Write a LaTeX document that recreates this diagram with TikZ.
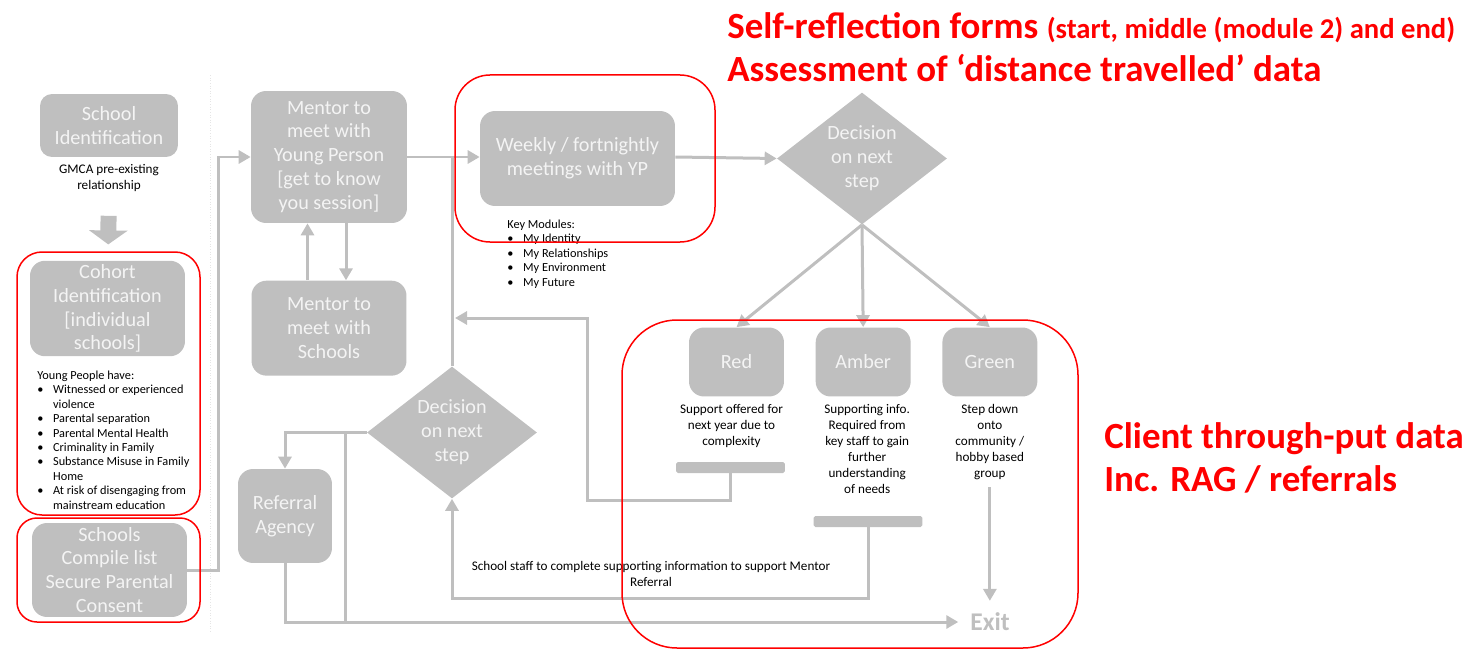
\documentclass[tikz,border=0pt]{standalone}
\usepackage{fontspec}
\setmainfont{Carlito}
\usepackage{tikz}
\usetikzlibrary{shapes,arrows.meta,positioning}

\definecolor{boxgray}{HTML}{BFBFBF}
\definecolor{boxtext}{HTML}{F4F4F4}
\definecolor{framered}{HTML}{FF0000}

\begin{document}
\begin{tikzpicture}[x=0.02cm, y=-0.02cm,
        box/.style={rectangle, fill=boxgray, text=boxtext, align=center, rounded corners=0.3cm, inner sep=2pt, font=\fontsize{11.5}{13.6}\selectfont},
        decision/.style={diamond, aspect=1.28, fill=boxgray, text=boxtext, align=center, inner sep=0pt, minimum width=3.4cm, minimum height=2.64cm, font=\fontsize{11.5}{13.6}\selectfont},
        bar/.style={rectangle, fill=boxgray, rounded corners=1pt, inner sep=0pt, minimum width=2.18cm, minimum height=0.22cm},
        note/.style={align=center, inner sep=1pt, font=\fontsize{7.5}{9.2}\selectfont},
        listnote/.style={align=left, inner sep=0pt, anchor=north west, font=\fontsize{7}{8.2}\selectfont},
        link/.style={draw=boxgray, line width=0.06cm},
        arrow/.style={link, -{Triangle[length=0.24cm, width=0.26cm]}},
        fatarrow/.style={draw=boxgray, line width=0.32cm, -{Triangle[length=0.28cm, width=0.76cm]}},
        redframe/.style={draw=framered, line width=0.03cm},
        redtitle/.style={text=framered, anchor=west, inner sep=0pt, font=\bfseries\fontsize{21}{24.5}\selectfont}
    ]
        \useasboundingbox (0,0) rectangle (1481,652);

        % faint page divider
        \draw[gray!20, densely dotted, line width=0.5pt] (210,75) -- (210,632);

        % Left column
        \node[box, minimum width=2.76cm, minimum height=1.26cm, rounded corners=0.24cm] (school) at (109,125.5) {School\\Identification};
        \node[note] (gmca) at (109,178) {GMCA pre-existing\\relationship};
        \node[box, minimum width=3.1cm, minimum height=1.86cm] (cohort) at (107.5,308.5) {Cohort\\Identification\\{[}individual\\schools{]}};
        \node[listnote] (yplist) at (37,369) {\begin{tabular}{@{}l@{\hspace{5.5pt}}l@{}}
            \multicolumn{2}{@{}l@{}}{Young People have:}\\
            \textbullet & Witnessed or experienced\\
             & violence\\
            \textbullet & Parental separation\\
            \textbullet & Parental Mental Health\\
            \textbullet & Criminality in Family\\
            \textbullet & Substance Misuse in Family\\
             & Home\\
            \textbullet & At risk of disengaging from\\
             & mainstream education
        \end{tabular}};
        \node[box, minimum width=3.1cm, minimum height=1.88cm] (schools) at (109.5,570) {Schools\\Compile list\\Secure Parental\\Consent};

        % Mentor blocks
        \node[box, minimum width=3.12cm, minimum height=2.64cm] (mentoryp) at (329,157) {Mentor to\\meet with\\Young Person\\{[}get to know\\you session{]}};
        \node[box, minimum width=3.1cm, minimum height=1.9cm, below=1.14cm of mentoryp] (mentorsch) {Mentor to\\meet with\\Schools};

        % Meetings and decisions
        \node[box, minimum width=3.9cm, minimum height=1.9cm] (weekly) at (577.5,158.5) {Weekly / fortnightly\\meetings with YP};
        \node[listnote] (modules) at (507,218) {\begin{tabular}{@{}l@{\hspace{5.5pt}}l@{}}
            \multicolumn{2}{@{}l@{}}{Key Modules:}\\
            \textbullet & My Identity\\
            \textbullet & My Relationships\\
            \textbullet & My Environment\\
            \textbullet & My Future
        \end{tabular}};
        \node[decision] (dec1) at (862,158.5) {Decision\\on next\\step};
        \node[decision] (dec2) at (452,432.5) {Decision\\on next\\step};
        \node[box, minimum width=1.88cm, minimum height=1.88cm] (referral) at (285,516) {Referral\\Agency};

        % RAG
        \node[box, minimum width=1.9cm, minimum height=1.38cm] (red) at (736.5,362) {Red};
        \node[box, minimum width=1.9cm, minimum height=1.38cm, right=0.62cm of red] (amber) {Amber};
        \node[box, minimum width=1.9cm, minimum height=1.38cm, right=0.62cm of amber] (green) {Green};
        \node[note, below=0.1cm of red, xshift=-0.1cm] (rednote) {Support offered for\\next year due to\\complexity};
        \node[note, below=0.1cm of amber, xshift=0.08cm] (ambernote) {Supporting info.\\Required from\\key staff to gain\\further\\understanding\\of needs};
        \node[note, below=0.1cm of green] (greennote) {Step down\\onto\\community /\\hobby based\\group};
        \node[bar] (redbar) at (730.5,467.5) {};
        \node[bar] (amberbar) at (868,521.5) {};
        \node[note] (staffnote) at (651,574) {School staff to complete supporting information to support Mentor\\Referral};
        \node[text=boxgray, inner sep=1pt, font=\bfseries\fontsize{14.5}{16}\selectfont] (exit) at (990,622) {Exit};

        % Arrows
        \draw[fatarrow, shorten <=0.44cm, shorten >=0.32cm] (gmca) -- (cohort);
        \draw[arrow] (schools.east) -- ++(31,0) |- (mentoryp.west);
        \draw[arrow] ([xshift=-0.43cm]mentorsch.north) -- ([xshift=-0.43cm]mentoryp.south);
        \draw[arrow] ([xshift=0.34cm]mentoryp.south) -- ([xshift=0.34cm]mentorsch.north);
        \draw[arrow] (mentoryp.east) -- (weekly.west |- mentoryp.east);
        \draw[arrow] (weekly.east |- mentoryp.east) -- (dec1.west);
        \draw[arrow] (dec1.south) -- (red.north);
        \draw[arrow] (dec1.south) -- (amber.north);
        \draw[arrow] (dec1.south) -- (green.north);
        \draw[link] (dec2.north) -- (dec2.north |- mentoryp.east);
        \coordinate (loopin) at (455,318);
        \draw[arrow] (redbar.south) -- ++(0,27) -| (587,318) -- (loopin);
        \draw[arrow] (amberbar.south) -- ++(0,71) -| (dec2.south);
        \draw[arrow] (dec2.west) -| (referral.north);
        \coordinate (split) at ([xshift=-0.42cm]dec2.west);
        \draw[link] (split) -- (split |- exit.west);
        \draw[arrow, shorten >=0.2cm] (referral.south) |- (exit.west);
        \draw[arrow, shorten <=0.1cm, shorten >=0.2cm] (greennote.south) -- (greennote.south |- exit.north);

        % Red frames
        \draw[redframe, rounded corners=0.5cm] (17,252) rectangle (200,515);
        \draw[redframe, rounded corners=0.4cm] (17,518) rectangle (200,622);
        \draw[redframe, rounded corners=0.7cm] (455,75) rectangle (715,242);
        \draw[redframe, rounded corners=1.1cm] (622,320) rectangle (1078,648);

        % Red titles
        \node[redtitle] (selfref) at (727,28) {Self-reflection forms {\fontsize{16.3}{20}\selectfont(start, middle (module 2) and end)}};
        \node[redtitle] (assess) at (727,68) {Assessment of ‘distance travelled’ data};
        \node[redtitle, align=left] (client) at (1104,458) {Client through-put data\\Inc. RAG / referrals};

    \end{tikzpicture}
\end{document}
